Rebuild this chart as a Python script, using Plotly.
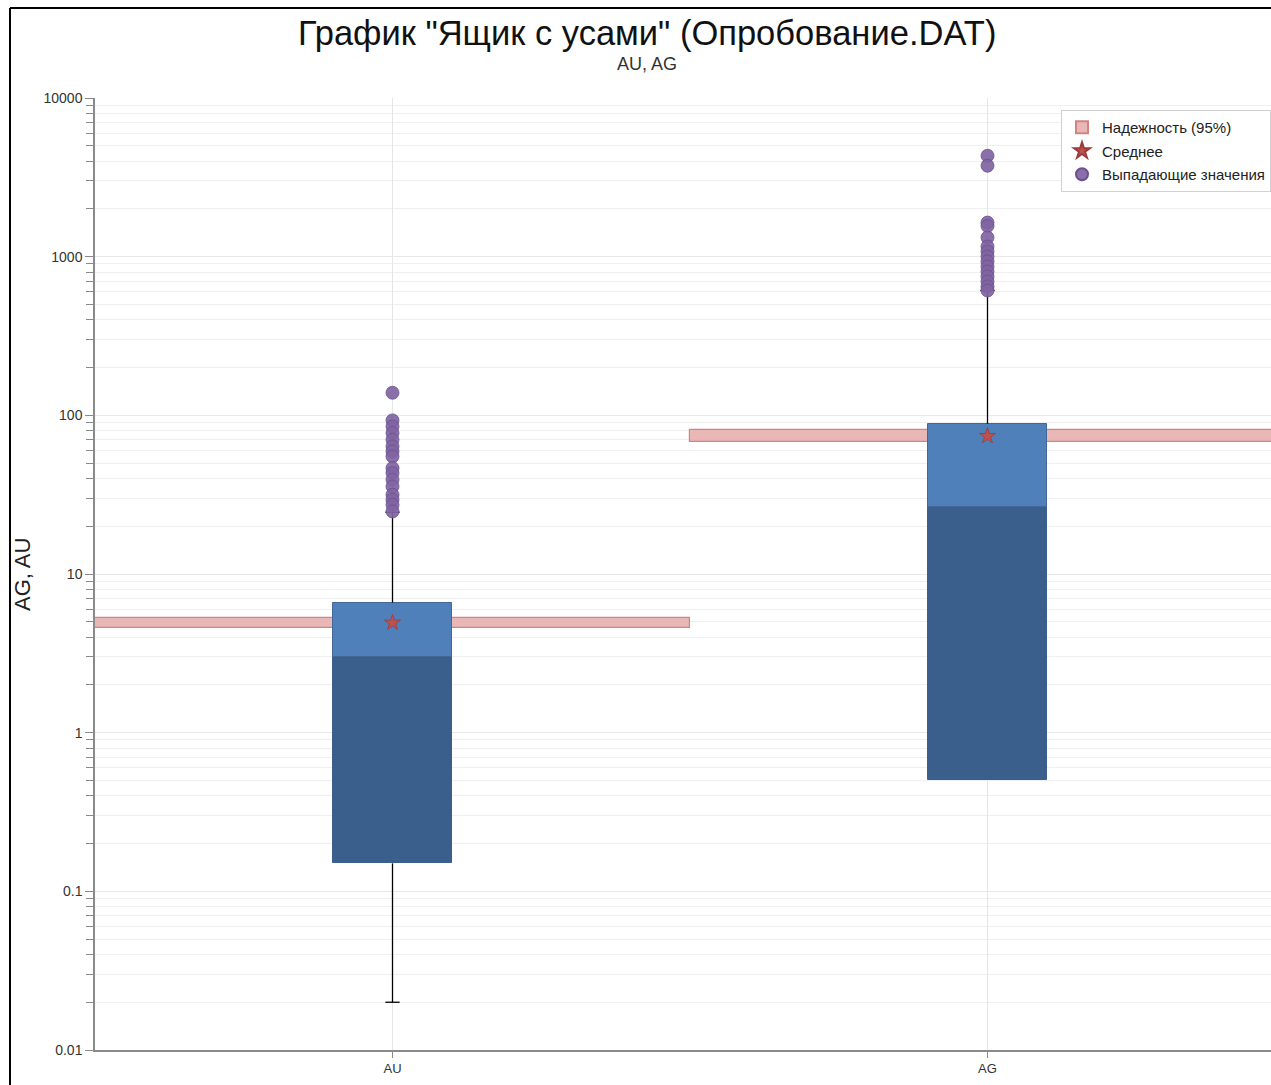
import plotly.graph_objects as go

# ---------------- data ----------------
categories = ["AU", "AG"]
q1 = [0.15, 0.5]
median = [3.0, 26.5]
q3 = [6.6, 88.5]
whisker_low = [0.02, 0.5]
whisker_high = [24.5, 612]
mean_vals = [4.93, 74.0]
ci_low = [4.6, 68.0]
ci_high = [5.3, 81.0]
outliers_au = [138.8, 92.9, 85.0, 77.3, 70.2, 63.7, 59.3, 55.1, 46.5, 43.3,
               39.3, 35.6, 31.6, 29.4, 27.3, 24.8]
outliers_ag = [4325, 3743, 1640, 1560, 1321, 1159, 1078, 1003, 933, 867,
               807, 750, 698, 649, 612]
ytick_vals = [0.01, 0.1, 1, 10, 100, 1000, 10000]
ytick_text = ["0.01", "0.1", "1", "10", "100", "1000", "10000"]
title_text = 'График "Ящик с усами" (Опробование.DAT)'
subtitle_text = "AU, AG"
ytitle = "AG, AU"

# ---------------- layout constants ----------------
W, H = 1271, 1085
ML, MR, MT, MB = 95, 0, 98, 35
PW, PH = W - ML - MR, H - MT - MB
FONT = "Liberation Sans, Arial, sans-serif"

BOX_W = 0.2
CAP = 0.012
xs = list(range(len(categories)))

fig = go.Figure()

# confidence bands
fig.add_trace(go.Bar(
    x=xs, base=ci_low, y=[h - l for h, l in zip(ci_high, ci_low)], width=1.0,
    marker=dict(color="rgba(230,170,170,0.85)", line=dict(color="#D08585", width=1.2)),
    name="Надежность (95%)", showlegend=True, legendgroup="a", hoverinfo="skip"))

# boxes: lower part (q1 -> median) darker, upper (median -> q3) lighter
fig.add_trace(go.Bar(
    x=xs, base=q1, y=[m - a for m, a in zip(median, q1)], width=BOX_W,
    marker=dict(color="#3A5F8D", line=dict(color="#3A5F8D", width=1)),
    showlegend=False, hoverinfo="skip"))
fig.add_trace(go.Bar(
    x=xs, base=median, y=[b - m for b, m in zip(q3, median)], width=BOX_W,
    marker=dict(color="#4F80BA", line=dict(color="#42689A", width=1)),
    showlegend=False, hoverinfo="skip"))

# whiskers
for i in xs:
    fig.add_trace(go.Scatter(x=[i, i], y=[q3[i], whisker_high[i]], mode="lines",
                             line=dict(color="black", width=1.3), showlegend=False, hoverinfo="skip"))
    fig.add_trace(go.Scatter(x=[i - CAP, i + CAP], y=[whisker_high[i]] * 2, mode="lines",
                             line=dict(color="black", width=1.3), showlegend=False, hoverinfo="skip"))
    if whisker_low[i] < q1[i]:
        fig.add_trace(go.Scatter(x=[i, i], y=[whisker_low[i], q1[i]], mode="lines",
                                 line=dict(color="black", width=1.3), showlegend=False, hoverinfo="skip"))
        fig.add_trace(go.Scatter(x=[i - CAP, i + CAP], y=[whisker_low[i]] * 2, mode="lines",
                                 line=dict(color="black", width=1.3), showlegend=False, hoverinfo="skip"))

# mean
fig.add_trace(go.Scatter(
    x=xs, y=mean_vals, mode="markers", name="Среднее", legendgroup="b",
    marker=dict(symbol="star", size=12, color="#C0504D", line=dict(color="#9E3B38", width=0.8))))

# outliers
out_x = [0] * len(outliers_au) + [1] * len(outliers_ag)
out_y = outliers_au + outliers_ag
fig.add_trace(go.Scatter(
    x=out_x, y=out_y, mode="markers", name="Выпадающие значения", legendgroup="c",
    marker=dict(symbol="circle", size=13, color="rgba(128,100,162,0.92)",
                line=dict(color="#6A5090", width=0.8))))

minor_vals = [k * 10 ** e for e in range(-2, 4) for k in range(2, 10)]

fig.update_layout(
    width=W, height=H, autosize=False,
    margin=dict(l=ML, r=MR, t=MT, b=MB, pad=0),
    paper_bgcolor="white", plot_bgcolor="white",
    barmode="overlay", bargap=0,
    font=dict(family=FONT, color="#333333", size=13),
    showlegend=True,
    legend=dict(x=1, xanchor="right", y=(PH - 12) / PH, yanchor="top",
                bgcolor="white", bordercolor="#D0D0D0", borderwidth=1,
                font=dict(family=FONT, size=15, color="#222222"),
                tracegroupgap=1, itemsizing="constant"),
    xaxis=dict(range=[-0.5, -0.5 + PW / 595.0], tickmode="array", tickvals=xs, ticktext=categories,
               showgrid=True, gridcolor="#E6E6E6", gridwidth=1, zeroline=False,
               showline=True, linecolor="#8A8A8A", linewidth=1.5,
               ticks="outside", ticklen=6, tickcolor="#8A8A8A",
               tickfont=dict(family=FONT, size=13, color="#333333")),
    yaxis=dict(type="log", range=[-2, 4], tickmode="array", tickvals=ytick_vals, ticktext=ytick_text,
               showgrid=True, gridcolor="#E8E8E8", gridwidth=1, zeroline=False,
               showline=True, linecolor="#8A8A8A", linewidth=1.5,
               ticks="outside", ticklen=8, tickcolor="#8A8A8A",
               tickfont=dict(family=FONT, size=14, color="#333333"),
               minor=dict(tickmode="array", tickvals=minor_vals, ticks="outside", ticklen=7,
                          tickcolor="#8A8A8A", showgrid=True, gridcolor="#EFEFEF", gridwidth=1)),
)

def px_x(px):
    return (px - ML) / PW

def px_y(py):
    return (H - MB - py) / PH

fig.add_annotation(text=title_text, xref="paper", yref="paper", x=px_x(647), y=px_y(33),
                   xanchor="center", yanchor="middle", showarrow=False,
                   font=dict(family=FONT, size=34.5, color="#111111"))
fig.add_annotation(text=subtitle_text, xref="paper", yref="paper", x=px_x(647), y=px_y(64),
                   xanchor="center", yanchor="middle", showarrow=False,
                   font=dict(family=FONT, size=18, color="#333333"))
fig.add_annotation(text=ytitle, xref="paper", yref="paper", x=px_x(22), y=px_y(575),
                   xanchor="center", yanchor="middle", showarrow=False, textangle=-90,
                   font=dict(family=FONT, size=22, color="#222222"))

# outer frame (left and top edges)
fig.add_shape(type="line", xref="paper", yref="paper", x0=px_x(10), x1=px_x(10),
              y0=px_y(H + 5), y1=px_y(8), line=dict(color="black", width=2))
fig.add_shape(type="line", xref="paper", yref="paper", x0=px_x(10), x1=px_x(W + 5),
              y0=px_y(8), y1=px_y(8), line=dict(color="black", width=2))

fig.write_html("out.html", config={"displayModeBar": False},
               post_script="document.body.style.margin='0';document.body.style.overflow='hidden';")
